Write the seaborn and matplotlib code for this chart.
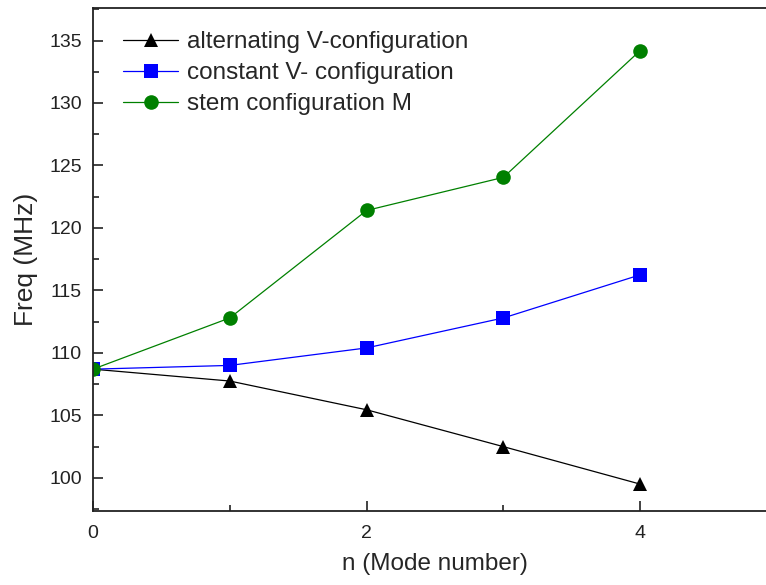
import matplotlib
matplotlib.use('Agg')
import matplotlib.pyplot as plt
import pandas as pd
import seaborn as sns
from matplotlib.ticker import MultipleLocator

# Data
modes = [0, 1, 2, 3, 4]
alternating = [108.7, 107.75, 105.45, 102.5, 99.5]
constant = [108.7, 109.0, 110.4, 112.8, 116.25]
stem = [108.7, 112.8, 121.4, 124.05, 134.2]
labels = ['alternating V-configuration', 'constant V- configuration', 'stem configuration M']

df = pd.DataFrame({
    'n': modes * 3,
    'freq': alternating + constant + stem,
    'config': [labels[0]] * 5 + [labels[1]] * 5 + [labels[2]] * 5,
})

sns.set_style('ticks')
plt.rcParams['font.family'] = ['Liberation Sans', 'DejaVu Sans']

fig = plt.figure(figsize=(7.66, 5.85), dpi=100)
ax = fig.add_axes([0.1214, 0.1265, 0.893, 0.8598])

palette = {labels[0]: 'black', labels[1]: '#0000ff', labels[2]: '#008000'}
markers = {labels[0]: '^', labels[1]: 's', labels[2]: 'o'}
sns.lineplot(data=df, x='n', y='freq', hue='config', style='config',
             palette=palette, markers=markers, dashes=False,
             markersize=10.5, linewidth=0.9, markeredgewidth=0, ax=ax)

ax.set_xlim(0, 5)
ax.set_ylim(97.35, 137.6)
ax.xaxis.set_major_locator(MultipleLocator(2))
ax.xaxis.set_minor_locator(MultipleLocator(1))
ax.yaxis.set_major_locator(MultipleLocator(5))
ax.yaxis.set_minor_locator(MultipleLocator(2.5))
ax.tick_params(which='both', direction='in', labelsize=14, width=1.2, colors='#222222')
ax.tick_params(which='major', length=7)
ax.tick_params(which='minor', length=4)
ax.tick_params(axis='x', pad=10)
ax.tick_params(axis='y', pad=8)
for s in ax.spines.values():
    s.set_linewidth(1.3)
    s.set_color('#222222')

ax.set_xlabel('n (Mode number)', fontsize=17.5, labelpad=8)
ax.set_ylabel('Freq (MHz)', fontsize=19, labelpad=8)

ax.legend(loc='upper left', bbox_to_anchor=(0.044, 0.954), frameon=False,
          fontsize=17.5, handlelength=2.26, handletextpad=0.37,
          labelspacing=0.37, borderpad=0, borderaxespad=0)

fig.savefig('out.png', dpi=100)
